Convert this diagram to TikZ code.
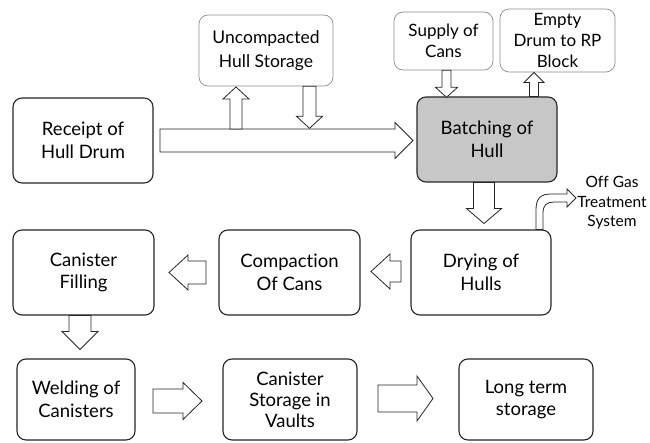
\documentclass[tikz,border=0pt]{standalone}
\usepackage{fontspec}
\setmainfont{Lato}[Ligatures=NoCommon]
\usetikzlibrary{calc}
\tikzset{
  box/.style={draw=black!85, line width=1.1pt, rounded corners=9pt, fill=white, align=center, inner sep=0pt,
    font=\fontsize{18.5}{22.5}\selectfont, text=black},
  topbox/.style={draw=black!45, line width=0.7pt, rounded corners=9pt, fill=white, align=center, inner sep=0pt,
    font=\fontsize{17}{21}\selectfont, text=black},
  barrow/.style={draw=black!85, line width=0.8pt, fill=white, line join=miter},
  note/.style={align=center, inner sep=0pt, font=\fontsize{15.5}{19.5}\selectfont, text=black}
}
% #1 start, #2 angle, #3 length, #4 body half width, #5 head half width, #6 head length
\newcommand{\blockarrow}[6]{%
  \begin{scope}[shift={#1}, rotate=#2]
    \draw[barrow] (0,-#4) -- ({#3-#6},-#4) -- ({#3-#6},-#5) -- (#3,0) -- ({#3-#6},#5) -- ({#3-#6},#4) -- (0,#4) -- cycle;
  \end{scope}}
\begin{document}
\begin{tikzpicture}[x=1pt, y=-1pt]
\useasboundingbox (0,0) rectangle (650,443);
% boxes
\node[box, minimum width=140pt, minimum height=85pt] (rec) at (83,140.5) {Receipt of\\Hull Drum};
\node[topbox, minimum width=134pt, minimum height=71pt, font=\fontsize{17.5}{24}\selectfont] (unc) at (266,50.5) {Uncompacted\\Hull Storage};
\node[box, minimum width=140pt, minimum height=85pt, fill=black!22] (bat) at (487,139.5) {Batching of\\Hull};
\node[topbox, minimum width=99pt, minimum height=58pt] (sup) at (443.5,41) {Supply of\\Cans};
\node[topbox, minimum width=115pt, minimum height=63pt] (emp) at (557.5,40.5) {Empty\\Drum to RP\\Block};
\node[box, minimum width=140pt, minimum height=85pt] (dry) at (481,272.5) {Drying of\\Hulls};
\node[box, minimum width=141pt, minimum height=85pt] (com) at (289.5,272.5) {Compaction\\Of Cans};
\node[box, minimum width=141pt, minimum height=85pt] (can) at (83.5,272.5) {Canister\\Filling};
\node[box, minimum width=118pt, minimum height=81pt] (wel) at (76,399.5) {Welding of\\Canisters};
\node[box, minimum width=134pt, minimum height=81pt, font=\fontsize{18.5}{21}\selectfont] (sto) at (290,399.5) {Canister\\Storage in\\Vaults};
\node[box, minimum width=134pt, minimum height=81pt] (lon) at (526,399.5) {Long term\\storage};
\node[note] (gas) at (612,203) {Off Gas\\Treatment\\System};
% block arrows
\blockarrow{(160,140.5)}{0}{253}{11.5}{18}{18}
\blockarrow{(236,129)}{90}{42}{6}{13}{12}
\blockarrow{(309.5,0 |- unc.south)}{270}{42}{6.5}{13}{12}
\blockarrow{(446.5,0 |- sup.south)}{270}{27}{4.5}{11}{10}
\blockarrow{(534,0 |- bat.north)}{90}{24}{4.5}{10}{10}
\blockarrow{(484,0 |- bat.south)}{270}{41}{10.5}{17.5}{15}
\blockarrow{(401,271.5)}{180}{30}{10.5}{17.5}{19}
\blockarrow{(206,272.5)}{180}{37}{11.5}{17.5}{19}
\blockarrow{(80,0 |- can.south)}{270}{34}{11}{18}{18}
\blockarrow{(153,401)}{0}{49}{12}{18.5}{19}
\blockarrow{(378,398.5)}{0}{55}{13.5}{22.5}{16}
% curved off-gas arrow
\draw[barrow] (536,0 |- dry.north) -- (536,210) .. controls (536,199) and (540,194) .. (551,194) -- (567,194) -- (567,189) -- (576,198) -- (567,207) -- (567,202) -- (554,202) .. controls (547,202) and (543,205) .. (543,213) -- (543,0 |- dry.north) -- cycle;
\end{tikzpicture}
\end{document}
